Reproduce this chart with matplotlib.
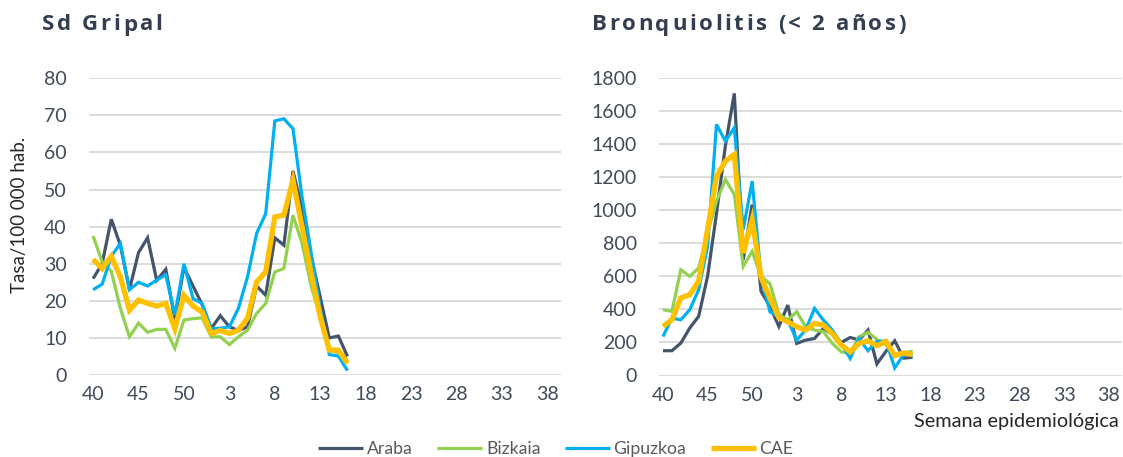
import matplotlib
matplotlib.use("Agg")
import matplotlib.pyplot as plt

# semanas epidemiologicas (eje categorico 40..52, 1..39)
weeks = list(range(40, 53)) + list(range(1, 40))
tick_idx = list(range(0, 52, 5))

# Sd Gripal (tasa/100 000), semanas 40 - 16
gripal_araba = [26, 30, 42, 35, 23, 33, 37, 25.5, 28.5, 15, 29, 24, 19, 12.5, 16,
                13, 12, 13, 24, 21.5, 37, 35, 55, 45, 32, 21, 10, 10.5, 5]
gripal_bizkaia = [37.5, 30.5, 28, 18, 10.3, 14, 11.5, 12.3, 12.3, 7.2, 14.8, 15.2, 15.4, 10.3, 10.3,
                  8.2, 10.3, 12.1, 16.6, 19.3, 27.8, 28.7, 43.1, 35.5, 24, 15.7, 6.7, 6, 4]
gripal_gipuzkoa = [23, 24.5, 32, 35.5, 23, 25, 24, 25.6, 27, 16.2, 30, 20.6, 19.3, 12.5, 12.6,
                   13, 18, 26.5, 38.2, 43.5, 68.5, 69.1, 66.4, 48, 33, 18, 5.5, 5.1, 1.2]
gripal_cae = [31.2, 28.7, 32, 26.5, 17.5, 20.2, 19.3, 18.6, 19.3, 12.5, 21.5, 18.6, 17, 11.2, 12,
              11.2, 12.1, 15.3, 25.1, 27.8, 42.6, 43.1, 52.5, 40, 27.4, 15.7, 6.7, 6.7, 3.1]

# Bronquiolitis (< 2 años)
bronq_araba = [150, 150, 196, 287, 358, 600, 980, 1390, 1707, 700, 1034, 509, 418, 297, 426,
               194, 214, 224, 285, 250, 200, 230, 215, 275, 70, 145, 210, 105, 110]
bronq_bizkaia = [398, 388, 640, 600, 650, 862, 1054, 1186, 1095, 660, 751, 600, 555, 372, 335,
                 386, 295, 275, 265, 194, 143, 133, 234, 262, 218, 185, 127, 137, 147]
bronq_gipuzkoa = [236, 347, 337, 398, 519, 782, 1519, 1418, 1499, 883, 1176, 600, 386, 355, 335,
                  214, 275, 406, 335, 275, 194, 103, 224, 150, 205, 210, 46, 127, 127]
bronq_cae = [297, 337, 469, 489, 570, 883, 1206, 1297, 1337, 741, 943, 594, 468, 350, 325,
             295, 275, 315, 305, 255, 184, 143, 194, 210, 180, 206, 120, 137, 127]

names = ["Araba", "Bizkaia", "Gipuzkoa", "CAE"]
colors = ["#44546A", "#92D050", "#00B0F0", "#FFC000"]
widths = [2.3, 2.3, 2.3, 3.8]

W, H = 1123, 457
fig = plt.figure(figsize=(W / 100, H / 100), dpi=100)

def px_axes(x0, x1, y0, y1):
    # y0 arriba, y1 abajo (pixeles)
    return fig.add_axes([x0 / W, 1 - y1 / H, (x1 - x0) / W, (y1 - y0) / H])

ax1 = px_axes(89, 561, 78.3, 375)
ax2 = px_axes(659, 1122, 78, 375.5)

panels = [
    (ax1, [gripal_araba, gripal_bizkaia, gripal_gipuzkoa, gripal_cae], 80, 10),
    (ax2, [bronq_araba, bronq_bizkaia, bronq_gipuzkoa, bronq_cae], 1800, 200),
]

for ax, series, ymax, step in panels:
    for vals, name, c, lw in zip(series, names, colors, widths):
        ax.plot(range(len(vals)), vals, color=c, lw=lw, label=name,
                solid_joinstyle="miter", solid_capstyle="butt")
    ax.set_xlim(-0.45, 51.5)
    ax.set_ylim(0, ymax)
    ax.set_yticks(range(0, ymax + 1, step))
    ax.set_xticks(tick_idx)
    ax.set_xticklabels([str(weeks[i]) for i in tick_idx])
    ax.grid(axis="y", color="#D9D9D9", lw=1.3)
    ax.set_axisbelow(True)
    for s in ax.spines.values():
        s.set_visible(False)
    ax.tick_params(length=0, labelsize=14, labelcolor="#404B5A", labelfontfamily="Lato")
    ax.tick_params(axis="y", pad=16)
    ax.tick_params(axis="x", pad=8)

renderer = fig.canvas.get_renderer()

def spaced_title(x_px, y_px, s, extra):
    # dibuja el titulo letra a letra con espaciado extra
    kw = dict(fontsize=16, fontweight="bold", family="Open Sans", color="#333F50",
              va="center", ha="left")
    for i, ch in enumerate(s):
        if ch == " ":
            continue
        if i > 0:
            tmp = fig.text(0, 0, s[:i] + "|", **kw)
            bar = fig.text(0, 0, "|", **kw)
            w = tmp.get_window_extent(renderer).width - bar.get_window_extent(renderer).width
            tmp.remove()
            bar.remove()
        else:
            w = 0
        fig.text((x_px + w + i * extra) / W, 1 - y_px / H, ch, **kw)

spaced_title(42, 25, "Sd Gripal", 2.6)
spaced_title(592, 25, "Bronquiolitis (< 2 años)", 2.6)

fig.text(20 / W, 1 - 215 / H, "Tasa/100 000 hab.", rotation=90, ha="center", va="center",
         fontsize=13.5, family="Lato", color="#262626")
fig.text(1119 / W, 1 - 422 / H, "Semana epidemiológica", ha="right", va="center",
         fontsize=14.3, family="Lato", color="#262626")

handles, labels = ax1.get_legend_handles_labels()
leg = fig.legend(handles, labels, loc="center", bbox_to_anchor=(556 / W, 1 - 449 / H),
                 ncol=4, frameon=False, handlelength=2.55, handletextpad=0.2,
                 columnspacing=1.4, borderpad=0, prop={"family": "Lato", "size": 12.7})
for t in leg.get_texts():
    t.set_color("#595959")

fig.savefig("out.png", dpi=100)
